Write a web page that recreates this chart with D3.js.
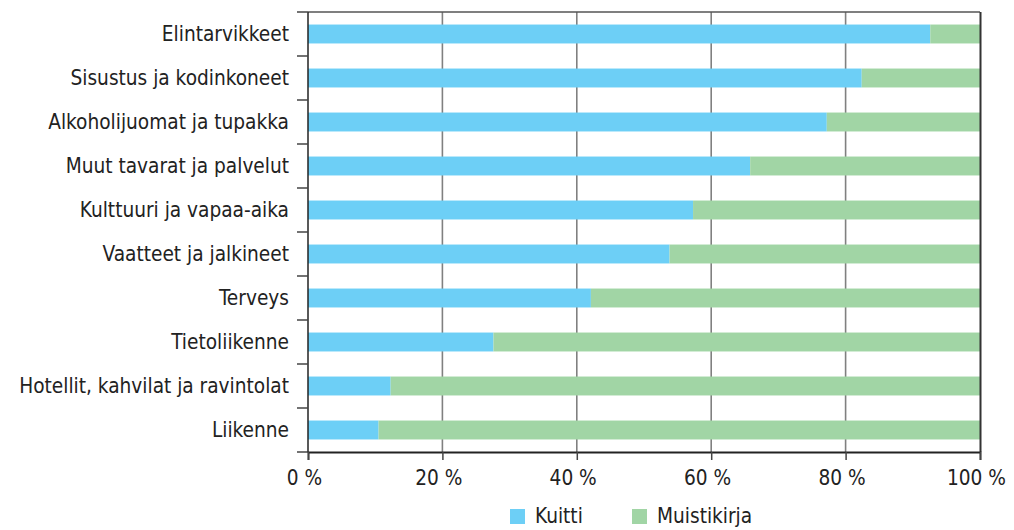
<!DOCTYPE html>
<html>
<head>
<meta charset="utf-8">
<script src="https://cdn.jsdelivr.net/npm/d3@7"></script>
<style>
  body { margin: 0; background: #fff; }
  text { font-family: "Liberation Sans Narrow", "DejaVu Sans Condensed", "Liberation Sans", sans-serif; fill: #222; }
</style>
</head>
<body>
<div id="chart"></div>
<script>
// Categories, top to bottom
let categories = [
    "Elintarvikkeet",
    "Sisustus ja kodinkoneet",
    "Alkoholijuomat ja tupakka",
    "Muut tavarat ja palvelut",
    "Kulttuuri ja vapaa-aika",
    "Vaatteet ja jalkineet",
    "Terveys",
    "Tietoliikenne",
    "Hotellit, kahvilat ja ravintolat",
    "Liikenne"
];
// Share recorded with receipt (Kuitti), percent
let kuitti = [92.6, 82.4, 77.2, 65.8, 57.3, 53.8, 42.1, 27.6, 12.3, 10.5];
// Share recorded in notebook (Muistikirja), percent
let muistikirja = kuitti.map(v => 100 - v);
let seriesNames = ["Kuitti", "Muistikirja"];
let xTicks = [0, 20, 40, 60, 80, 100];

let colors = { "Kuitti": "#6dcff6", "Muistikirja": "#a1d5a5" };

let margin = { top: 12, right: 34, bottom: 78, left: 308 };
let width = 1014 - margin.left - margin.right;
let height = 530 - margin.top - margin.bottom;

let svg = d3.select("#chart").append("svg")
    .attr("width", 1014)
    .attr("height", 530);

let g = svg.append("g")
    .attr("transform", "translate(" + margin.left + "," + margin.top + ")");

let x = d3.scaleLinear().domain([0, 100]).range([0, width]);
let y = d3.scaleBand().domain(categories).range([0, height]).paddingInner(0.57).paddingOuter(0.285);

// Fit the label font so the longest label is about 270px wide
let probe = svg.append("text").attr("font-size", 24).text(categories[8]);
let fontSize = 24 * 270 / probe.node().getComputedTextLength();
fontSize = Math.max(17, Math.min(26, fontSize));
probe.remove();

// Vertical gridlines
g.selectAll(".grid")
    .data(xTicks.slice(1, -1))
    .enter().append("line")
    .attr("class", "grid")
    .attr("x1", d => x(d)).attr("x2", d => x(d))
    .attr("y1", 0).attr("y2", height)
    .attr("stroke", "#808080")
    .attr("stroke-width", 1.6);

// Stacked bars
let rows = categories.map((c, i) => ({ cat: c, Kuitti: kuitti[i], Muistikirja: muistikirja[i] }));
let stack = d3.stack().keys(seriesNames)(rows);

g.selectAll(".series")
    .data(stack)
    .enter().append("g")
    .attr("fill", d => colors[d.key])
    .selectAll("rect")
    .data(d => d)
    .enter().append("rect")
    .attr("x", d => x(d[0]))
    .attr("y", d => y(d.data.cat))
    .attr("width", d => x(d[1]) - x(d[0]))
    .attr("height", y.bandwidth());

// Top border and right border
g.append("line")
    .attr("x1", 0).attr("x2", width)
    .attr("y1", 0).attr("y2", 0)
    .attr("stroke", "#555").attr("stroke-width", 1.5);
g.append("line")
    .attr("x1", width + 0.5).attr("x2", width + 0.5)
    .attr("y1", 0).attr("y2", height)
    .attr("stroke", "#333").attr("stroke-width", 2);

// Left axis: ticks at band boundaries
let boundaries = d3.range(categories.length + 1).map(i => i * height / categories.length);
g.append("line")
    .attr("x1", 0).attr("x2", 0)
    .attr("y1", 0).attr("y2", height)
    .attr("stroke", "#222").attr("stroke-width", 1.5);
g.selectAll(".ytick")
    .data(boundaries)
    .enter().append("line")
    .attr("class", "ytick")
    .attr("x1", -11).attr("x2", 0)
    .attr("y1", d => d).attr("y2", d => d)
    .attr("stroke", "#444").attr("stroke-width", 1.5);

g.selectAll(".ylabel")
    .data(categories)
    .enter().append("text")
    .attr("class", "ylabel")
    .attr("x", -19)
    .attr("y", d => y(d) + y.bandwidth() / 2)
    .attr("dy", "0.36em")
    .attr("text-anchor", "end")
    .attr("font-size", fontSize)
    .text(d => d);

// Bottom axis
let xAxis = d3.axisBottom(x)
    .tickValues(xTicks)
    .tickSize(8)
    .tickPadding(10)
    .tickFormat(d => d + " %");

let xg = g.append("g")
    .attr("transform", "translate(0," + height + ")")
    .call(xAxis);
xg.select(".domain").attr("stroke", "#222").attr("stroke-width", 1.8);
xg.selectAll(".tick line").attr("stroke", "#444").attr("stroke-width", 1.5);
xg.selectAll(".tick text")
    .attr("font-size", fontSize)
    .attr("font-family", null)
    .attr("fill", "#222")
    .attr("dx", "-0.2em");

// Legend (kept slightly above the bottom edge so descenders are not cut)
let legend = svg.append("g")
    .attr("transform", "translate(510,509)");
let legendX = [0, 122];
let items = legend.selectAll(".item")
    .data(seriesNames)
    .enter().append("g")
    .attr("transform", (d, i) => "translate(" + legendX[i] + ",0)");
items.append("rect")
    .attr("width", 15).attr("height", 15)
    .attr("fill", d => colors[d]);
items.append("text")
    .attr("x", 25)
    .attr("y", 14)
    .attr("font-size", fontSize)
    .text(d => d);
</script>
</body>
</html>
